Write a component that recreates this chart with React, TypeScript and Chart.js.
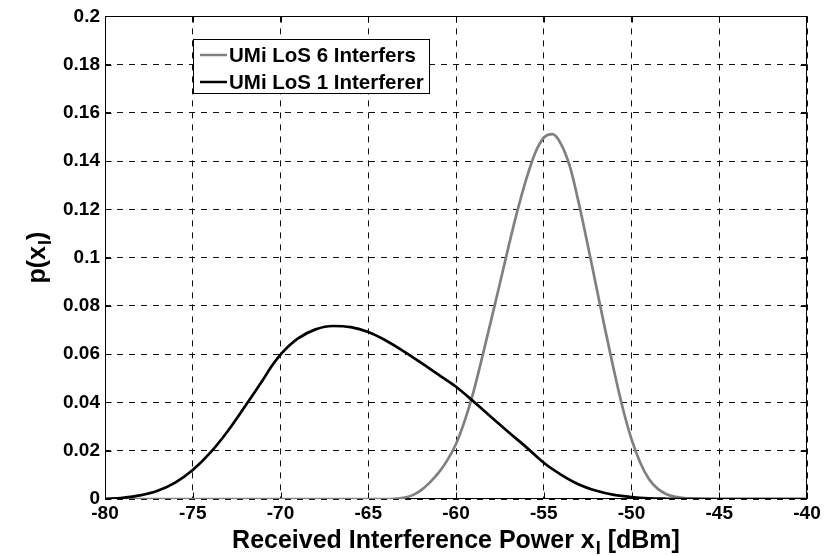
import { useEffect, useRef } from 'react';
import { Chart, registerables } from 'chart.js';

Chart.register(...registerables);

// ---- data ----
const seriesLabels = ['UMi LoS 6 Interfers', 'UMi LoS 1 Interferer'];

const grayX = [
  -80, -64, -63.5, -63, -62.5, -62, -61.5, -61, -60.5, -60, -59.5, -59, -58.5, -58, -57.5, -57,
  -56.5, -56, -55.5, -55, -54.5, -54, -53.5, -53, -52.5, -52, -51.5, -51, -50.5, -50, -49.5,
  -49, -48.5, -48, -47.5, -47, -46.5, -46, -45.5, -40,
];
const grayY = [
  0, 0, 0.0001, 0.0005, 0.0015, 0.0036, 0.0068, 0.0108, 0.016, 0.0228, 0.0325, 0.0445, 0.059,
  0.074, 0.0893, 0.1048, 0.1195, 0.1325, 0.1432, 0.1497, 0.1512, 0.1469, 0.1375, 0.1225, 0.1055,
  0.0878, 0.0702, 0.0533, 0.0377, 0.0248, 0.015, 0.0082, 0.0042, 0.002, 0.0009, 0.0004, 0.0002,
  0.0001, 0, 0,
];

const blackX = [
  -80, -79, -78, -77, -76, -75, -74, -73, -72, -71, -70.5, -70, -69.5, -69, -68, -67, -66, -65,
  -64, -63, -62, -61, -60, -59, -58, -57, -56, -55, -54, -53, -52, -51, -50, -49, -48, -47, -40,
];
const blackY = [
  0, 0.0005, 0.0015, 0.0034, 0.0068, 0.012, 0.0192, 0.0282, 0.0386, 0.0494, 0.0551, 0.0598,
  0.0636, 0.0666, 0.0703, 0.0717, 0.0712, 0.0692, 0.0657, 0.0613, 0.0565, 0.0515, 0.0465, 0.0404,
  0.034, 0.0277, 0.0215, 0.015, 0.01, 0.006, 0.0034, 0.0017, 0.0008, 0.0003, 0.0001, 0, 0,
];

const xTicks = [-80, -75, -70, -65, -60, -55, -50, -45, -40];
const xTickLabels = ['-80', '-75', '-70', '-65', '-60', '-55', '-50', '-45', '-40'];
const yTicks = [0, 0.02, 0.04, 0.06, 0.08, 0.1, 0.12, 0.14, 0.16, 0.18, 0.2];
const yTickLabels = ['0', '0.02', '0.04', '0.06', '0.08', '0.1', '0.12', '0.14', '0.16', '0.18', '0.2'];

const xTitle = { main: 'Received Interference Power x', sub: 'I', tail: ' [dBm]' };
const yTitle = { main: 'p(x', sub: 'I', tail: ')' };

const FONT_FAMILY = '"Liberation Sans", Arial, Helvetica, sans-serif';

function drawSubText(ctx: CanvasRenderingContext2D, cx: number, by: number, t: { main: string; sub: string; tail: string }) {
  const big = `bold 25px ${FONT_FAMILY}`;
  const small = `bold 18px ${FONT_FAMILY}`;
  ctx.font = big;
  const w1 = ctx.measureText(t.main).width;
  const w3 = ctx.measureText(t.tail).width;
  ctx.font = small;
  const w2 = ctx.measureText(t.sub).width;
  const total = w1 + w2 + w3 + 1;
  let x = cx - total / 2;
  ctx.textAlign = 'left';
  ctx.textBaseline = 'alphabetic';
  ctx.fillStyle = '#000';
  ctx.font = big;
  ctx.fillText(t.main, x, by);
  x += w1 + 1;
  ctx.font = small;
  ctx.fillText(t.sub, x, by + 6);
  x += w2;
  ctx.font = big;
  ctx.fillText(t.tail, x, by);
}

const decorPlugin = {
  id: 'decor',
  beforeDatasetsDraw(chart: any) {
    const { ctx, chartArea: a, scales } = chart;
    ctx.save();
    ctx.strokeStyle = '#000';
    ctx.lineWidth = 1;
    const L = Math.round(a.left) + 0.5;
    const R = Math.round(a.right) - 0.5;
    const T = Math.round(a.top) + 0.5;
    const B = Math.round(a.bottom) - 0.5;
    ctx.beginPath();
    ctx.rect(L, T, R - L, B - T);
    ctx.stroke();
    const tl = 6;
    ctx.beginPath();
    for (const v of xTicks) {
      const px = Math.round(scales.x.getPixelForValue(v)) + 0.5;
      ctx.moveTo(px, B);
      ctx.lineTo(px, B - tl);
      ctx.moveTo(px, T);
      ctx.lineTo(px, T + tl);
    }
    for (const v of yTicks) {
      const py = Math.round(scales.y.getPixelForValue(v)) + 0.5;
      ctx.moveTo(L, py);
      ctx.lineTo(L + tl, py);
      ctx.moveTo(R, py);
      ctx.lineTo(R - tl, py);
    }
    ctx.stroke();
    ctx.restore();
  },
  afterDatasetsDraw(chart: any) {
    const { ctx } = chart;
    const ds = chart.data.datasets;
    ctx.save();
    const bx = 193.5, by = 39.5, bw = 236, bh = 54;
    ctx.fillStyle = '#fff';
    ctx.fillRect(bx, by, bw, bh);
    ctx.strokeStyle = '#000';
    ctx.lineWidth = 1;
    ctx.strokeRect(bx, by, bw, bh);
    const rows = [55, 82];
    ds.forEach((d: any, i: number) => {
      const y = rows[i];
      ctx.strokeStyle = d.borderColor;
      ctx.lineWidth = 2.5;
      ctx.beginPath();
      ctx.moveTo(200, y);
      ctx.lineTo(227, y);
      ctx.stroke();
      ctx.fillStyle = '#000';
      ctx.font = `bold 20.5px ${FONT_FAMILY}`;
      ctx.textAlign = 'left';
      ctx.textBaseline = 'middle';
      ctx.fillText(d.label, 229, y + 1);
    });
    ctx.restore();
  },
  afterDraw(chart: any) {
    const { ctx, chartArea: a } = chart;
    ctx.save();
    drawSubText(ctx, (a.left + a.right) / 2, 548, xTitle);
    ctx.translate(45, (a.top + a.bottom) / 2);
    ctx.rotate(-Math.PI / 2);
    drawSubText(ctx, 0, 0, yTitle);
    ctx.restore();
  },
};

export default function App() {
  const canvasRef = useRef<HTMLCanvasElement | null>(null);

  useEffect(() => {
    const canvas = canvasRef.current;
    if (!canvas) return;
    const tickFont = { family: FONT_FAMILY, size: 19, weight: 'bold' as const };
    const chart = new Chart(canvas, {
      type: 'line',
      data: {
        datasets: [
          {
            label: seriesLabels[0],
            data: grayX.map((x, i) => ({ x, y: grayY[i] })),
            borderColor: '#808080',
            borderWidth: 2.7,
            pointRadius: 0,
            cubicInterpolationMode: 'monotone',
            fill: false,
            order: 1,
          },
          {
            label: seriesLabels[1],
            data: blackX.map((x, i) => ({ x, y: blackY[i] })),
            borderColor: '#000000',
            borderWidth: 2.7,
            pointRadius: 0,
            cubicInterpolationMode: 'monotone',
            fill: false,
            order: 0,
          },
        ],
      },
      options: {
        responsive: false,
        animation: false,
        devicePixelRatio: 1,
        layout: { padding: { top: 14, right: 22, left: 0, bottom: 0 } },
        plugins: { legend: { display: false }, tooltip: { enabled: false } },
        scales: {
          x: {
            type: 'linear',
            min: -80,
            max: -40,
            afterBuildTicks: (s: any) => {
              s.ticks = xTicks.map((v) => ({ value: v }));
            },
            afterFit: (s: any) => {
              s.height = 57;
            },
            ticks: {
              font: tickFont,
              color: '#000',
              padding: 3,
              maxRotation: 0,
              autoSkip: false,
              callback: (v: any) => {
                const i = xTicks.indexOf(Number(v));
                return i >= 0 ? xTickLabels[i] : '';
              },
            },
            grid: { color: '#111', lineWidth: 1, drawTicks: false },
            border: { display: false, dash: [6, 6] },
          },
          y: {
            type: 'linear',
            min: 0,
            max: 0.2,
            afterBuildTicks: (s: any) => {
              s.ticks = yTicks.map((v) => ({ value: v }));
            },
            afterFit: (s: any) => {
              s.width = 105;
            },
            ticks: {
              font: tickFont,
              color: '#000',
              padding: 5,
              autoSkip: false,
              callback: (v: any) => {
                const i = yTicks.findIndex((t) => Math.abs(t - Number(v)) < 1e-9);
                return i >= 0 ? yTickLabels[i] : '';
              },
            },
            grid: { color: '#111', lineWidth: 1, drawTicks: false },
            border: { display: false, dash: [6, 6] },
          },
        },
      },
      plugins: [decorPlugin],
    } as any);
    return () => chart.destroy();
  }, []);

  return (
    <div style={{ position: 'fixed', left: 0, top: 0, width: 829, height: 556, background: '#fff' }}>
      <canvas ref={canvasRef} width={829} height={556} style={{ display: 'block' }} />
    </div>
  );
}
